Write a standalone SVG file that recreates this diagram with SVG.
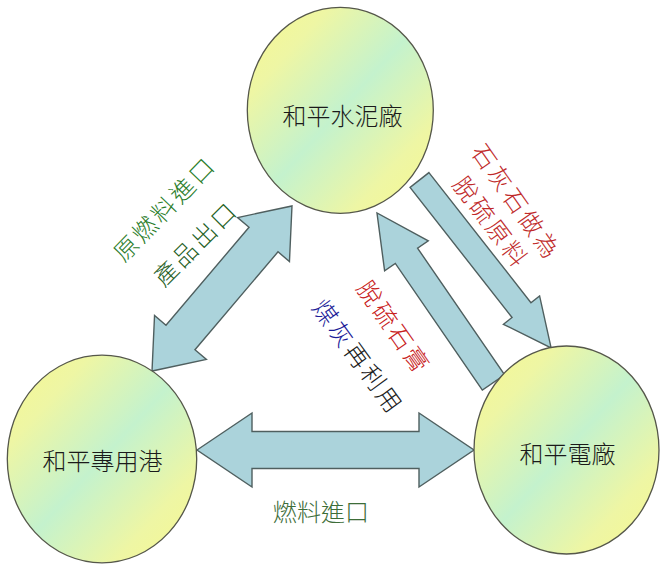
<svg xmlns="http://www.w3.org/2000/svg" width="660" height="564" viewBox="0 0 660 564">
<defs>
<linearGradient id="g" x1="0" y1="0" x2="1" y2="1">
<stop offset="0" stop-color="#f8f890"/>
<stop offset="0.22" stop-color="#eef6a4"/>
<stop offset="0.5" stop-color="#c4f2cd"/>
<stop offset="0.78" stop-color="#eef6a4"/>
<stop offset="1" stop-color="#f8f890"/>
</linearGradient>
<style>
.arr{fill:#abd3db;stroke:#4f5f5f;stroke-width:1.4;stroke-linejoin:miter}
.nd{fill:url(#g);stroke:#55574a;stroke-width:1.3}
.t{font-family:"Noto Sans CJK TC","Noto Sans CJK SC",sans-serif;font-size:24px;font-weight:300;text-anchor:middle;dominant-baseline:central}
.nt{fill:#1a1a1a}
.lb{letter-spacing:3px}
</style>
</defs>
<g id="connectors">
<polygon class="arr" transform="translate(222,288.5) rotate(-49.7)" points="-108.2,0 -64.2,-34 -64.2,-19 64.2,-19 64.2,-34 108.2,0 64.2,34 64.2,19 -64.2,19 -64.2,34"/>
<polygon class="arr" points="197,450 252,413 252,431.5 419,431.5 419,413 474,450 419,487 419,468.5 252,468.5 252,487"/>
<polygon class="arr" transform="translate(419.5,180) rotate(51.9)" points="0,-12 165.3,-12 165.3,-23 213.3,0 165.3,23 165.3,12 0,12"/>
<polygon class="arr" transform="translate(493.5,382.5) rotate(-124.5)" points="0,-13.5 153.7,-13.5 153.7,-26.5 205.7,0 153.7,26.5 153.7,13.5 0,13.5"/>
<text class="t lb" fill="#2a7d2a" transform="translate(163.5,207.5) rotate(-46)">原燃料進口</text>
<text class="t lb" fill="#1f5f1f" transform="translate(194.5,242.5) rotate(-45)">產品出口</text>
<text class="t lb" fill="#c02a2a" transform="translate(517.5,201) rotate(55)">石灰石做為</text>
<text class="t lb" fill="#c02a2a" transform="translate(492.5,221.5) rotate(53)">脫硫原料</text>
<text class="t lb" fill="#c82020" transform="translate(395,326.5) rotate(55)">脫硫石膏</text>
<text class="t lb" fill="#1a1a1a" transform="translate(359.5,356) rotate(54)"><tspan fill="#1c1c98">煤灰</tspan>再利用</text>
<text class="t" fill="#3d6d38" x="321" y="510">燃料進口</text>
</g>
<g id="node-cement">
<ellipse class="nd" cx="340.3" cy="110.3" rx="93" ry="103"/>
<text class="t nt" x="342.5" y="114">和平水泥廠</text>
</g>
<g id="node-port">
<ellipse class="nd" cx="102" cy="459" rx="94.7" ry="103.8"/>
<text class="t nt" x="102.5" y="459.5">和平專用港</text>
</g>
<g id="node-power">
<ellipse class="nd" cx="566.5" cy="450" rx="92.5" ry="104"/>
<text class="t nt" x="567.5" y="452.5">和平電廠</text>
</g>
</svg>
